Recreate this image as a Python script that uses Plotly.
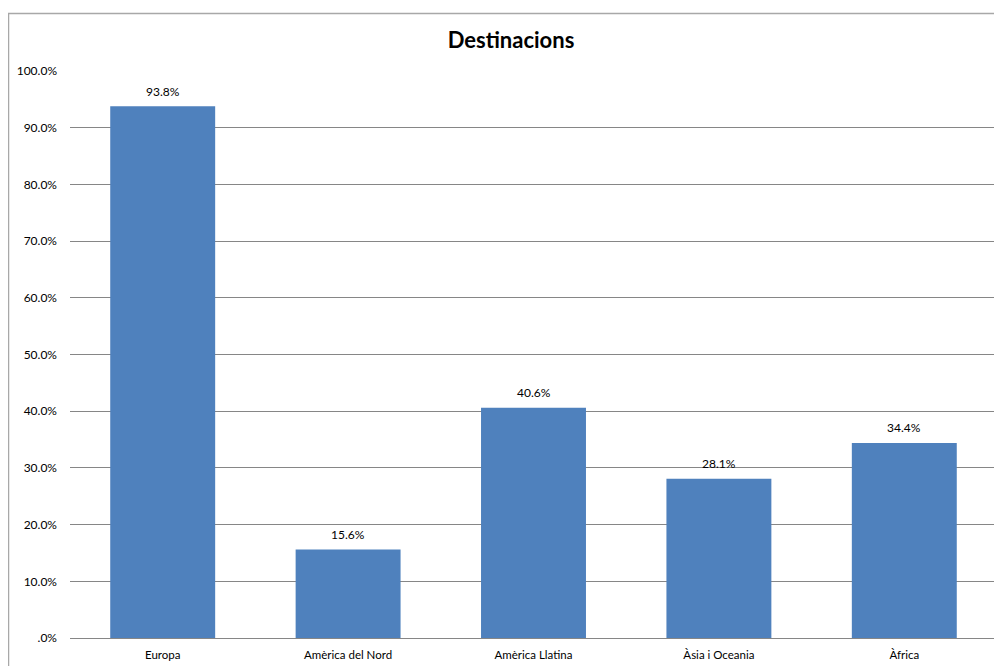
import plotly.graph_objects as go

categories = ["Europa", "Amèrica del Nord", "Amèrica Llatina", "Àsia i Oceania", "Àfrica"]
values = [93.8, 15.6, 40.6, 28.1, 34.4]
y_tick_vals = [0, 10, 20, 30, 40, 50, 60, 70, 80, 90, 100]
y_tick_text = [".0%", "10.0%", "20.0%", "30.0%", "40.0%", "50.0%", "60.0%", "70.0%", "80.0%", "90.0%", "100.0%"]

OFF = 8  # page body margin
W, H = 1002 - OFF, 666 - OFF
L, R, T, B = 70 - OFF, 5, 71 - OFF, 666 - 638
pw, ph = W - L - R, H - T - B

def px_x(p):
    return (p - OFF - L) / pw

def px_y(p):
    return (H - B - (p - OFF)) / ph

fig = go.Figure(go.Bar(
    x=categories, y=values,
    marker=dict(color="#4F81BD", line=dict(width=0)),
))

for c, v in zip(categories, values):
    fig.add_annotation(x=c, y=v, text=f"{v:.1f}%", showarrow=False,
                       yanchor="middle", yshift=15,
                       font=dict(size=12, color="#000000", family="Lato"))

fig.update_layout(
    width=W, height=H,
    margin=dict(l=L, r=R, t=T, b=B),
    paper_bgcolor="white", plot_bgcolor="white",
    bargap=0.434,
    showlegend=False,
    font=dict(family="Lato", size=12, color="#000000"),
    title=dict(text="<b>Destinacions</b>", x=(511 - OFF) / W, xref="container", xanchor="center",
               y=1 - (40 - OFF) / H, yref="container", yanchor="middle",
               font=dict(size=22, family="Lato", color="#000000")),
    xaxis=dict(showgrid=False, showline=False, ticks="", tickfont=dict(size=11.5),
               ticklabelstandoff=8),
    yaxis=dict(range=[0, 100], tickvals=y_tick_vals, ticktext=y_tick_text,
               showgrid=True, gridcolor="#868686", gridwidth=1, zeroline=True,
               zerolinecolor="#868686", zerolinewidth=1, showline=False,
               ticks="", ticklabelstandoff=12, tickfont=dict(size=12)),
    shapes=[dict(type="rect", xref="paper", yref="paper",
                 x0=px_x(8.5), x1=px_x(1010), y0=px_y(675), y1=px_y(13.5),
                 line=dict(color="#A8A8A8", width=1.5), fillcolor="rgba(0,0,0,0)", layer="below")],
)

fig.write_html("out.html")
